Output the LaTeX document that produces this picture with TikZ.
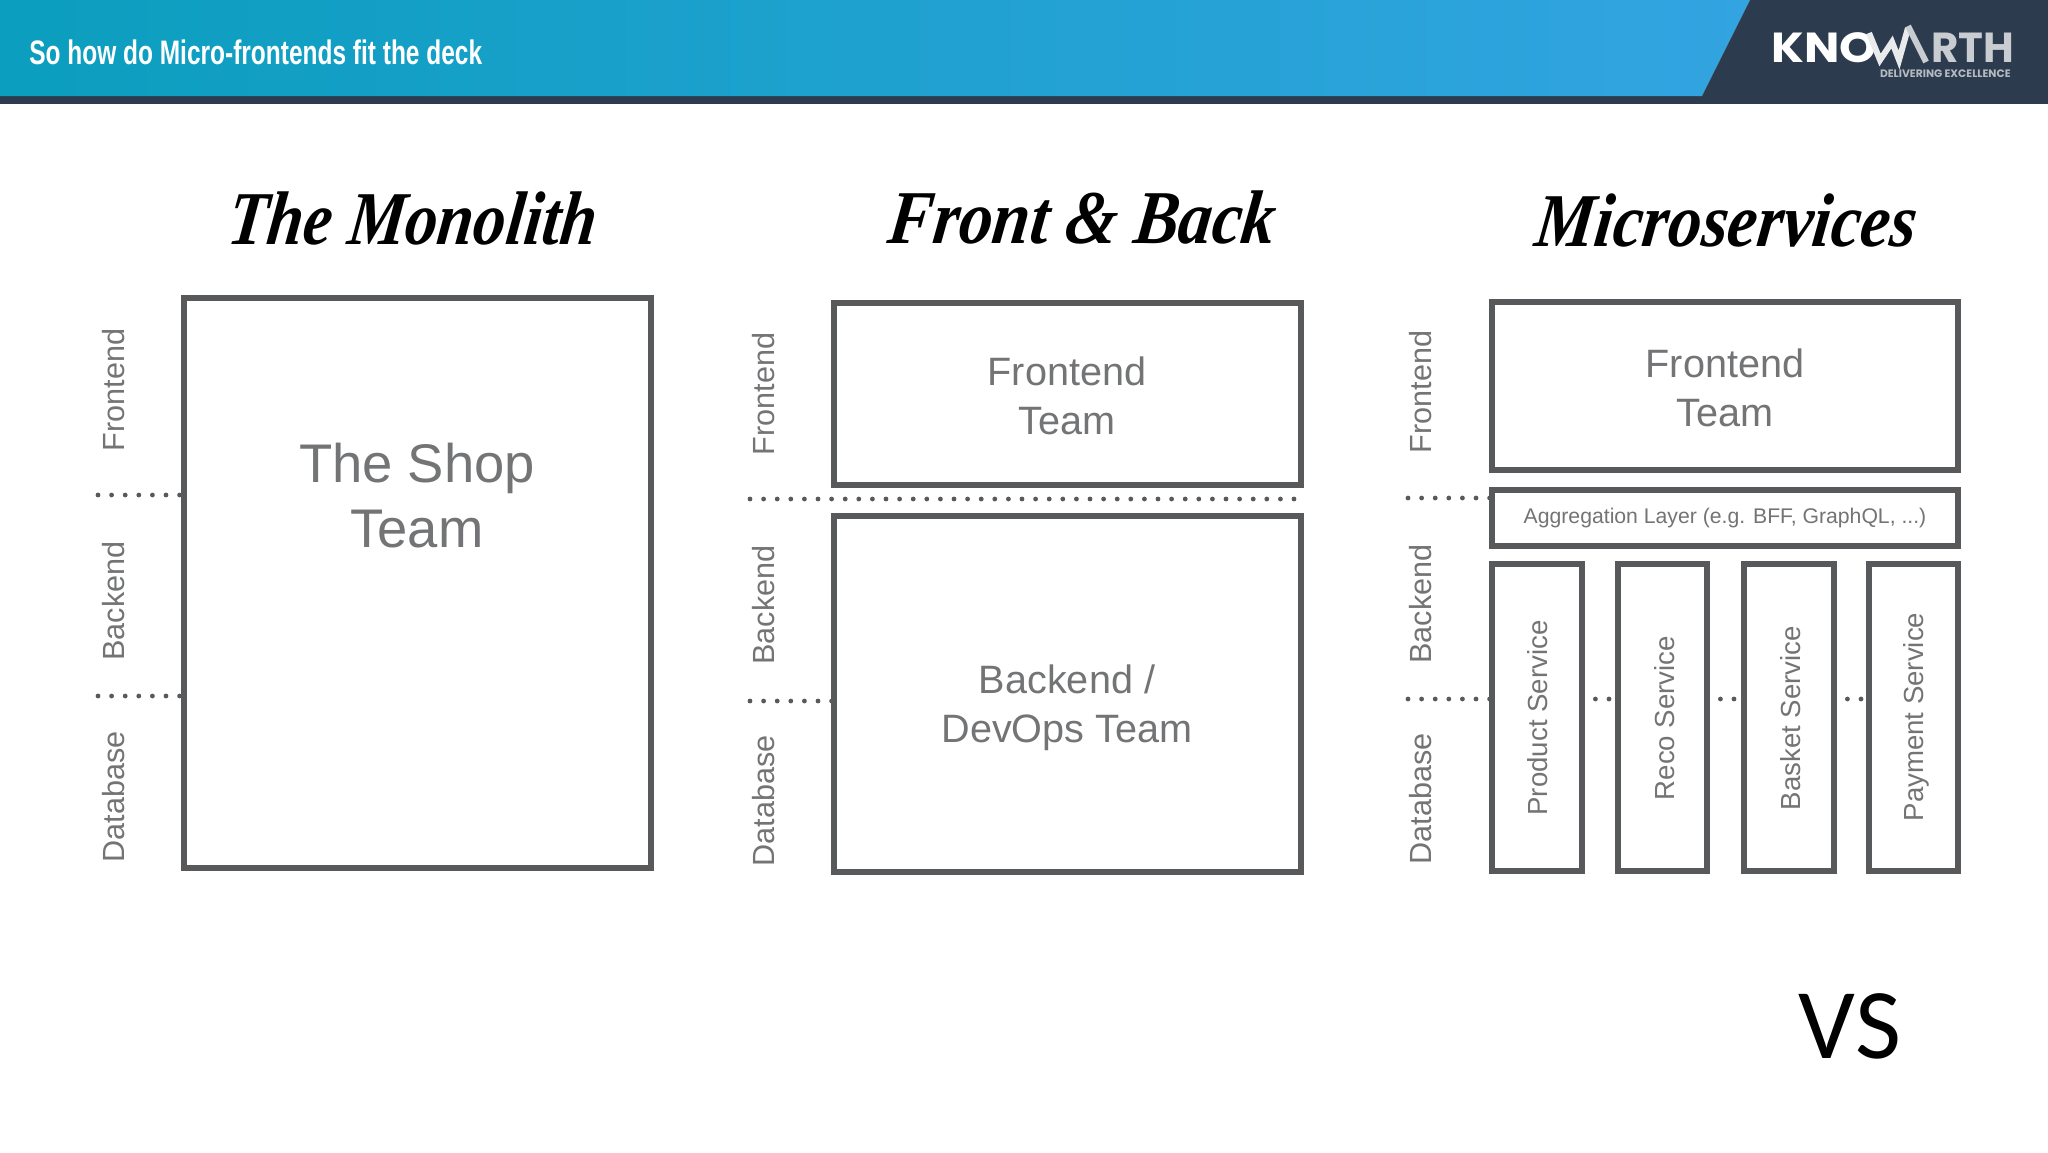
\documentclass[tikz,border=0pt]{standalone}
\usepackage{fontspec}
\setmainfont{Liberation Sans}
\newfontfamily\scriptfam[BoldItalicFeatures={FakeSlant=0.14}]{Liberation Serif}
\newfontfamily\vsfam{Carlito}
\newfontfamily\logofam{Poppins}
\usetikzlibrary{calc}
\definecolor{barL}{HTML}{0B9EBE}
\definecolor{barM}{HTML}{17A1C9}
\definecolor{barR}{HTML}{32A4E1}
\definecolor{barD}{HTML}{2C3B4E}
\definecolor{ink}{HTML}{58595B}
\definecolor{txt}{HTML}{737476}
\definecolor{logoG}{HTML}{C9CDD2}
\definecolor{logoW}{HTML}{E8EAEC}
\definecolor{logoS}{HTML}{B4BAC2}
\tikzset{
 x=0.5pt,y=-0.5pt,
 teambox/.style={draw=ink,line width=3.2pt,rectangle,inner sep=0pt,outer sep=0pt,fill=white},
 teamtext/.style={text=txt,align=center,inner sep=0pt},
 teamfont/.style={font=\fontsize{19.8}{24.5}\selectfont},
 layer/.style={text=txt,rotate=90,inner sep=0pt,font=\fontsize{15.3}{18}\selectfont},
 service/.style={text=txt,rotate=90,inner sep=0pt,font=\fontsize{13.8}{16}\selectfont},
 sep/.style={draw=ink,line width=2.4pt,line cap=round,dash pattern=on 0pt off 6.8pt},
 head/.style={text=black,inner sep=0pt,font=\scriptfam\bfseries\itshape\fontsize{38}{44}\selectfont},
 logoline/.style={line width=3pt,miter limit=10},
}
\newcommand{\boxat}[5]{\node[teambox,minimum width=#3*0.5pt-#2*0.5pt-1.2pt,minimum height=#5*0.5pt-#4*0.5pt-1.2pt] (#1) at ({(#2+#3)/2},{(#4+#5)/2}) {}}
\begin{document}
\begin{tikzpicture}
\useasboundingbox (0,0) rectangle (2048,1152);
\fill[white] (0,0) rectangle (2048,1152);
% header
\fill[barD] (0,96) rectangle (2048,104);
\shade[left color=barL,middle color=barM,right color=barR] (0,0) -- (1750,0) -- (1702,96) -- (0,96) -- cycle;
\fill[barD] (1750,0) -- (2048,0) -- (2048,96) -- (1702,96) -- cycle;
\node[anchor=west,inner sep=0pt,text=white,xscale=.72] (title) at (29,52) {\fontsize{17}{20}\selectfont\bfseries So how do Micro-frontends fit the deck};
% logo
\node[anchor=base west,inner sep=0pt,text=white,xscale=1.12] (logoa) at (1771,62) {\logofam\fontsize{21}{21}\selectfont\bfseries KNO};
\draw[logoW,logoline] (1869,33) -- (1880,60) -- (1892,42) -- (1899,60) -- (1908,28);
\draw[logoG,logoline] (1908,26) -- (1926,62);
\node[anchor=base west,inner sep=0pt,text=logoG] (logob) at (1931,62) {\logofam\fontsize{21}{21}\selectfont\bfseries RTH};
\node[anchor=base east,inner sep=0pt,text=logoS] (logoc) at (2011,77) {\logofam\fontsize{5.4}{6}\selectfont\bfseries DELIVERING EXCELLENCE};
% titles
\node[head,xscale=.85] (t1) at (410,218) {The Monolith};
\node[head,xscale=.88] (t2) at (1080,218) {Front \& Back};
\node[head,xscale=.875] (t3) at (1724,220) {Microservices};
% monolith
\boxat{mono}{183}{652}{297}{869};
\node[teamtext,font=\fontsize{27.2}{32.5}\selectfont] (monot) at (417,496) {The Shop\\Team};
\node[layer] (m1) at (114,390) {Frontend};
\node[layer] (m2) at (114,601) {Backend};
\node[layer] (m3) at (114,797) {Database};
\coordinate (m1s) at (98,495);
\coordinate (m2s) at (98,696);
\draw[sep] (m1s) -- (m1s -| mono.west);
\draw[sep] (m2s) -- (m2s -| mono.west);
% front and back
\boxat{fe}{833}{1302}{302}{486};
\node[teamtext,teamfont] (fet) at (1067,396) {Frontend\\Team};
\boxat{be}{833}{1302}{515}{873};
\node[teamtext,teamfont] (bet) at (1067,708) {Backend /\\DevOps Team};
\node[layer] (f1) at (764,394) {Frontend};
\node[layer] (f2) at (764,605) {Backend};
\node[layer] (f3) at (764,801) {Database};
\coordinate (f1s) at (750,499);
\coordinate (f2s) at (750,701);
\draw[sep] (f1s) -- (f1s -| fe.east);
\draw[sep] (f2s) -- (f2s -| be.west);
% microservices
\boxat{mf}{1491}{1959}{301}{471};
\node[teamtext,teamfont] (mft) at (1725,388) {Frontend\\Team};
\boxat{ag}{1491}{1959}{489}{547};
\node[teamtext,font=\fontsize{10.6}{13}\selectfont] (agt) at (1725,518.5) {Aggregation Layer (e.g. BFF, GraphQL, ...)};
\boxat{s1}{1491}{1583}{563}{872};
\boxat{s2}{1617}{1708}{563}{872};
\boxat{s3}{1743}{1835}{563}{872};
\boxat{s4}{1868}{1959}{563}{872};
\node[service] (s1t) at (1538,718) {Product Service};
\node[service] (s2t) at (1665,718) {Reco Service};
\node[service] (s3t) at (1791,718) {Basket Service};
\node[service] (s4t) at (1916,717) {Payment Service};
\node[layer] (g1) at (1421,392) {Frontend};
\node[layer] (g2) at (1421,604) {Backend};
\node[layer] (g3) at (1421,799) {Database};
\coordinate (g1s) at (1408,498);
\coordinate (g2s) at (1408,699);
\draw[sep] (g1s) -- (g1s -| ag.west);
\draw[sep] (g2s) -- (g2s -| s1.west);
\draw[sep] (g2s -| s1.east) -- (g2s -| s2.west);
\draw[sep] (g2s -| s2.east) -- (g2s -| s3.west);
\draw[sep] (g2s -| s3.east) -- (g2s -| s4.west);
% vs
\node[inner sep=0pt,text=black] (vs) at (1850,1026) {\vsfam\fontsize{50}{60}\selectfont VS};
\end{tikzpicture}
\end{document}
